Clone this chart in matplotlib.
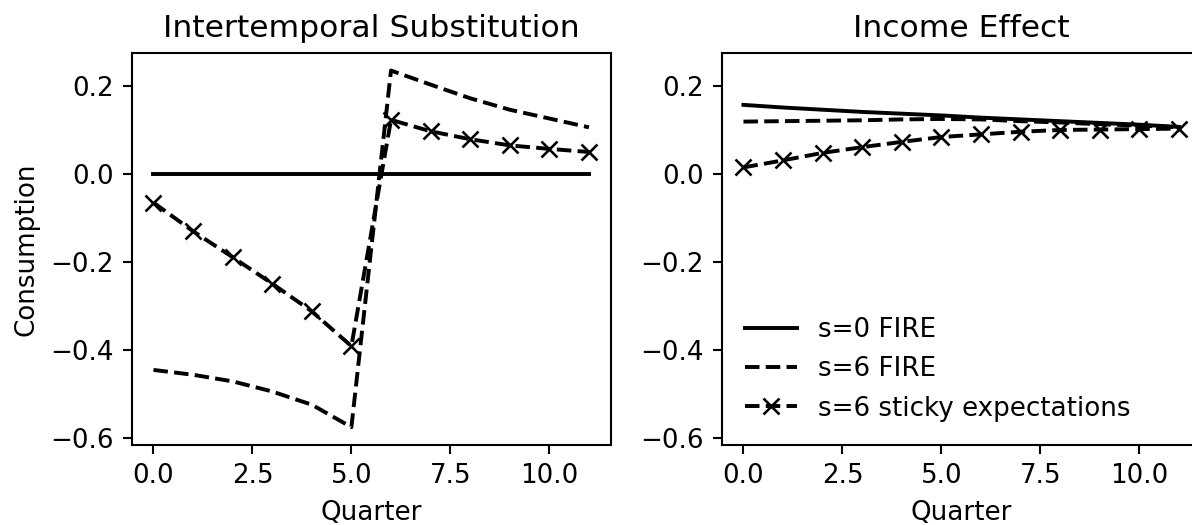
import matplotlib
matplotlib.use("Agg")
import matplotlib.pyplot as plt
import numpy as np

quarters = np.arange(12)

# intertemporal substitution responses
sub_fire_s0 = [0.0] * 12
sub_fire_s6 = [-0.445, -0.456, -0.471, -0.494, -0.524, -0.575,
               0.235, 0.203, 0.172, 0.146, 0.126, 0.106]
sub_sticky_s6 = [-0.065, -0.130, -0.189, -0.249, -0.312, -0.391,
                 0.123, 0.097, 0.079, 0.065, 0.057, 0.050]

# income effect responses
inc_fire_s0 = [0.157, 0.151, 0.146, 0.141, 0.137, 0.133,
               0.128, 0.124, 0.120, 0.116, 0.112, 0.107]
inc_fire_s6 = [0.119, 0.120, 0.121, 0.122, 0.124, 0.125,
               0.124, 0.120, 0.117, 0.113, 0.110, 0.106]
inc_sticky_s6 = [0.015, 0.031, 0.048, 0.061, 0.073, 0.084,
                 0.090, 0.096, 0.100, 0.101, 0.102, 0.103]

labels = ["s=0 FIRE", "s=6 FIRE", "s=6 sticky expectations"]

W, H, dpi = 1192, 525, 188
fig = plt.figure(figsize=(W/dpi, H/dpi), dpi=dpi)

def _axes(l, b, r, t):
    return fig.add_axes([l/W, 1 - b/H, (r - l)/W, (b - t)/H])

ax1 = _axes(131.7, 445, 610.7, 52.7)
ax2 = _axes(721.7, 445, 1200.7, 52.7)

def _draw(ax, s0, s6, sticky):
    ax.plot(quarters, s0, color="black", ls="-", label=labels[0])
    ax.plot(quarters, s6, color="black", ls="--", label=labels[1])
    ax.plot(quarters, sticky, color="black", ls="--", marker="x",
            label=labels[2])
    ax.set_ylim(-0.6155, 0.2755)
    ax.set_yticks([-0.6, -0.4, -0.2, 0.0, 0.2])
    ax.set_xticks([0, 2.5, 5, 7.5, 10])
    ax.set_xlabel("Quarter")

_draw(ax1, sub_fire_s0, sub_fire_s6, sub_sticky_s6)
_draw(ax2, inc_fire_s0, inc_fire_s6, inc_sticky_s6)

ax1.set_title("Intertemporal Substitution")
ax2.set_title("Income Effect")
ax1.set_ylabel("Consumption")
ax2.legend(loc="lower left", frameon=False)

fig.savefig("out.png", dpi=dpi)
